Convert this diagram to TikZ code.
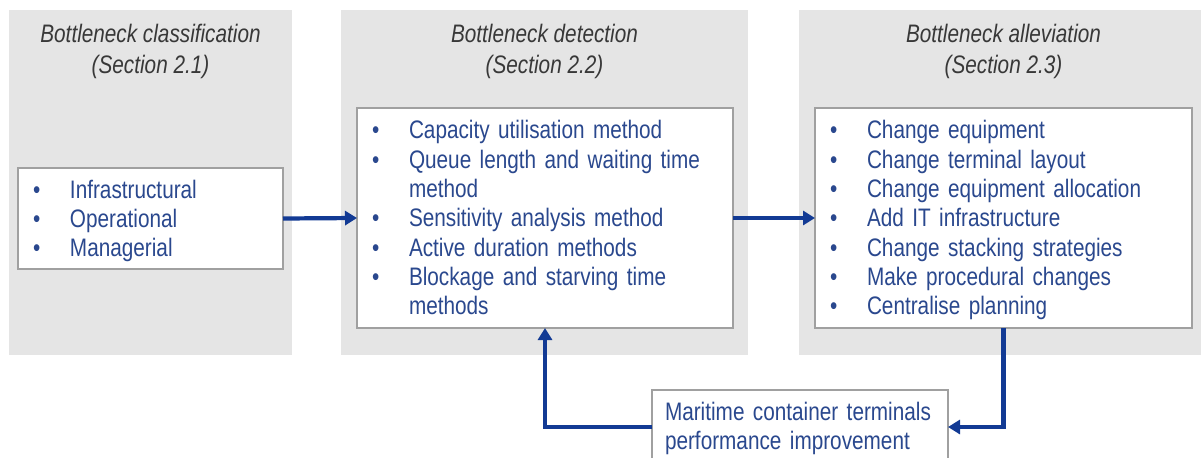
\documentclass[tikz,border=0pt]{standalone}
\usepackage{fontspec}
\setmainfont{Liberation Sans}[FakeStretch=0.82]
\usetikzlibrary{arrows.meta}
\definecolor{mygray}{RGB}{229,229,229}
\definecolor{myline}{RGB}{160,160,160}
\definecolor{mytext}{RGB}{42,72,142}
\definecolor{myarrow}{RGB}{18,58,148}
\tikzstyle{panel} = [fill=mygray, draw=none]
\tikzstyle{heading} = [font=\fontsize{14.4}{17.6}\selectfont\itshape,
    text=black!78, align=center, inner sep=0]
\tikzstyle{listbox} = [draw=myline, line width=0.8pt, fill=white,
    outer sep=0, inner xsep=0.3cm, inner ysep=0, align=left,
    font=\fontsize{14.4}{16.7}\selectfont, text=mytext]
\tikzstyle{link} = [draw=myarrow, line width=2.4pt,
    -{Triangle[length=0.24cm,width=0.28cm]}]

\begin{document}
\begin{tikzpicture}
\useasboundingbox (0,0) rectangle (24.02,9.14);

    % 1. Grey panels behind the three stages
    \fill[panel] (0.18,2.04) rectangle (5.84,8.94);
    \fill[panel] (6.82,2.04) rectangle (14.96,8.94);
    \fill[panel] (15.98,2.04) rectangle (24.02,8.94);

    % 2. Headings of the panels
    \node[heading] (h1) at (3.01,8.11) {Bottleneck classification\\(Section 2.1)};
    \node[heading] (h2) at (10.89,8.11) {Bottleneck detection\\(Section 2.2)};
    \node[heading] (h3) at (20.07,8.11) {Bottleneck alleviation\\(Section 2.3)};

    % 3. List boxes, x = panel centre, y = middle of the arrows
    \node[listbox, text width=4.70cm, minimum height=2.02cm] (cls) at (3.01,4.77)
        {\raisebox{-0.06cm}[\height][\depth]{\begin{tabular}{@{}p{0.74cm}@{}l@{}}
        \textbullet & Infrastructural \\
        \textbullet & Operational \\
        \textbullet & Managerial
        \end{tabular}}};
    \node[listbox, text width=6.92cm, minimum height=4.40cm] (det) at (10.90,4.78)
        {\raisebox{-0.06cm}[\height][\depth]{\begin{tabular}{@{}p{0.74cm}@{}l@{}}
        \textbullet & Capacity utilisation method \\
        \textbullet & Queue length and waiting time \\
                    & method \\
        \textbullet & Sensitivity analysis method \\
        \textbullet & Active duration methods \\
        \textbullet & Blockage and starving time \\
                    & methods
        \end{tabular}}};
    \node[listbox, text width=6.94cm, minimum height=4.40cm] (all) at (20.07,4.78)
        {\raisebox{-0.06cm}[\height][\depth]{\begin{tabular}{@{}p{0.74cm}@{}l@{}}
        \textbullet & Change equipment \\
        \textbullet & Change terminal layout \\
        \textbullet & Change equipment allocation \\
        \textbullet & Add IT infrastructure \\
        \textbullet & Change stacking strategies \\
        \textbullet & Make procedural changes \\
        \textbullet & Centralise planning
        \end{tabular}}};
    \node[listbox, inner xsep=0.26cm, text width=5.40cm, minimum height=1.48cm] (imp) at (16.00,0.60)
        {\raisebox{-0.04cm}[\height][\depth]{\begin{tabular}{@{}l@{}}
        Maritime container terminals \\
        performance improvement
        \end{tabular}}};

% 4. Connections
\draw[link] (cls.east) -- (det.west);
\draw[link] (det.east) -- (all.west);
\draw[link] (all.south) |- (imp.east);
\draw[link] (imp.west) -| (det.south);

\end{tikzpicture}
\end{document}
